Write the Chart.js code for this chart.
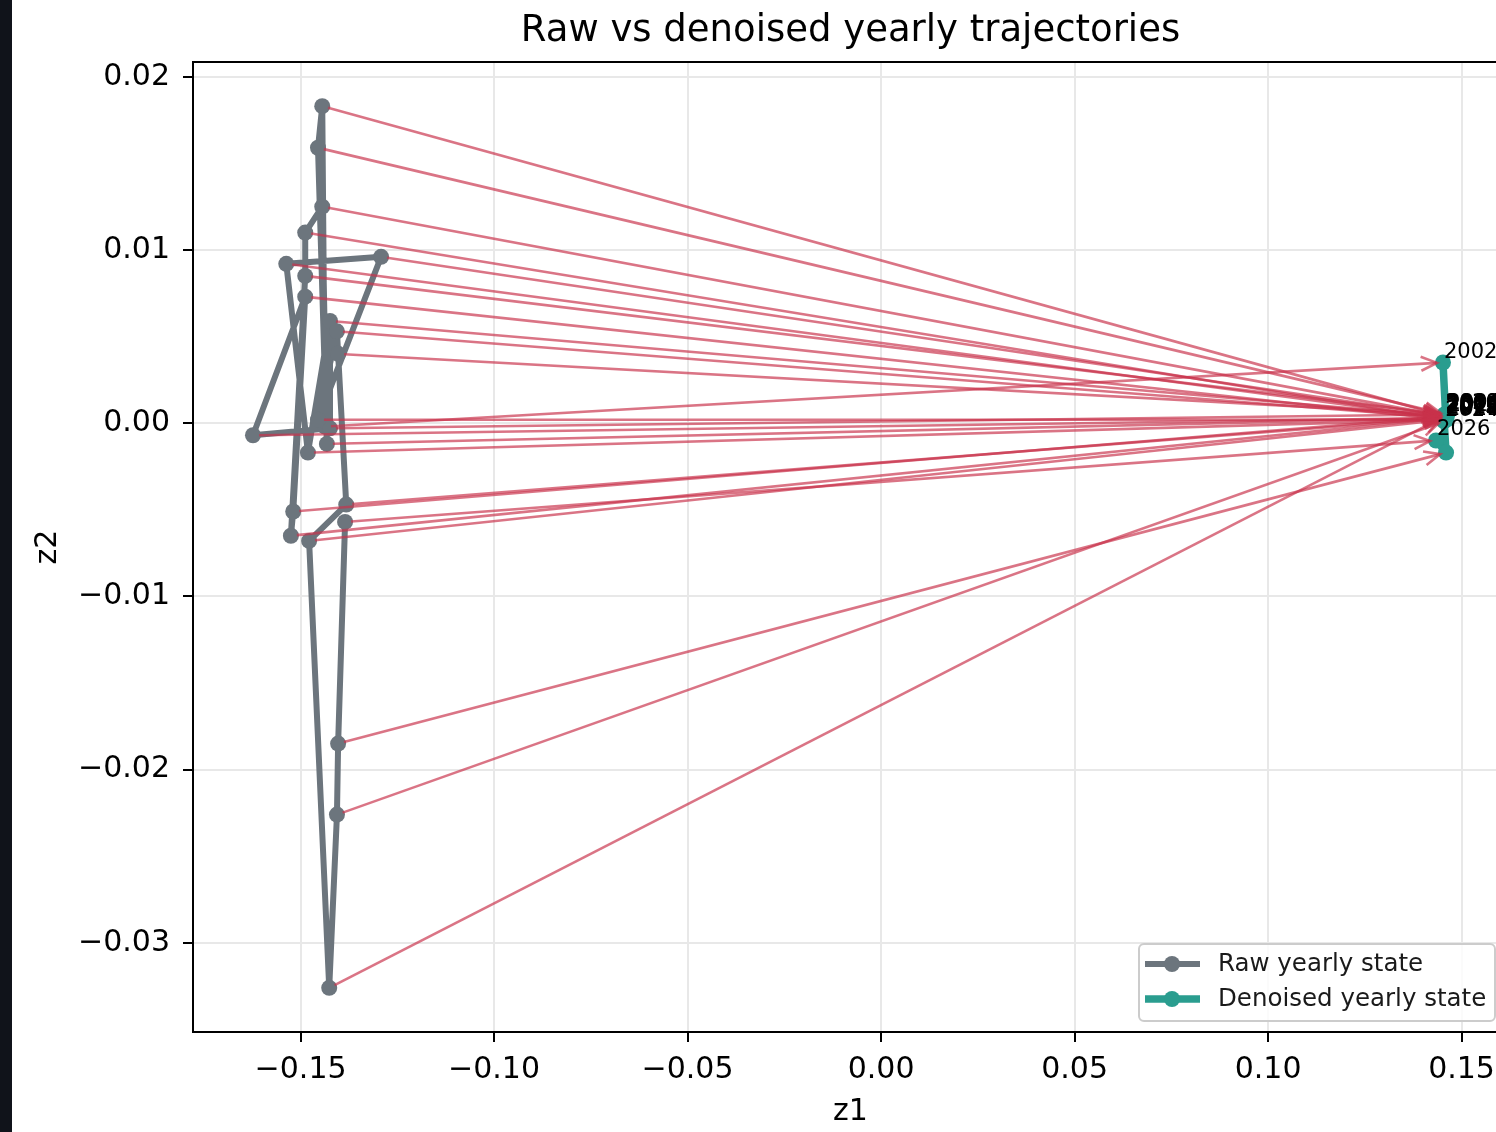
<!DOCTYPE html>
<html>
<head>
<meta charset="utf-8">
<script src="https://cdn.jsdelivr.net/npm/chart.js@4.4.1/dist/chart.umd.min.js"></script>
<style>
  html, body { margin: 0; padding: 0; background: #fff; overflow: hidden; }
  #wrap { position: relative; width: 1530px; height: 1132px; }
  #strip { position: absolute; left: 0; top: 0; width: 12px; height: 1132px; background: #10131a; z-index: 2; }
</style>
</head>
<body>
<div id="wrap">
  <div id="strip"></div>
  <canvas id="myChart"></canvas>
</div>
<script>
// data
var chartTitle = 'Raw vs denoised yearly trajectories';
var years = [2002, 2003, 2004, 2005, 2006, 2007, 2008, 2009, 2010, 2011, 2012, 2013, 2014,
             2015, 2016, 2017, 2018, 2019, 2020, 2021, 2022, 2023, 2024, 2025, 2026];
var rawZ1 = [-0.1437, -0.1444, -0.1455, -0.1432, -0.1444, -0.1488, -0.1488, -0.1525, -0.1519, -0.1488,
             -0.1623, -0.1424, -0.1424, -0.1481, -0.1537, -0.1292, -0.1455, -0.1406, -0.1403, -0.1382,
             -0.1478, -0.1426, -0.1406, -0.1403, -0.1385];
var rawZ2 = [-0.0002, 0.0183, 0.0159, -0.0012, 0.0125, 0.0110, 0.0085, -0.0065, -0.0051, 0.0073,
             -0.0007, -0.0003, 0.0059, -0.0017, 0.0092, 0.0096, 0.0002, 0.0053, 0.0040, -0.0047,
             -0.0068, -0.0326, -0.0226, -0.0185, -0.0057];
var denZ1 = [0.1452, 0.1459, 0.1461, 0.1458, 0.1456, 0.1460, 0.1457, 0.1459, 0.1462, 0.1458,
             0.1456, 0.1459, 0.1457, 0.1460, 0.1458, 0.1461, 0.1457, 0.1459, 0.1456, 0.1458,
             0.1460, 0.1457, 0.1455, 0.1460, 0.1434];
var denZ2 = [0.0035, 0.0004, 0.0005, 0.0003, 0.0004, 0.0002, 0.0005, 0.0003, 0.0004, 0.0002,
             0.0003, 0.0005, 0.0004, 0.0002, 0.0003, 0.0004, 0.0002, 0.0003, 0.0005, 0.0003,
             0.0002, 0.0004, 0.0001, -0.0017, -0.0010];
var labelYears = [2002, 2004, 2006, 2008, 2010, 2012, 2014, 2016, 2018, 2020, 2022, 2024, 2026];
var xTicks = [-0.15, -0.10, -0.05, 0.00, 0.05, 0.10, 0.15];
var yTicks = [-0.03, -0.02, -0.01, 0.00, 0.01, 0.02];
var xLimits = [-0.1778, 0.162];
var yLimits = [-0.03515, 0.02085];

var FONT = "'DejaVu Sans', sans-serif";
var grayCol = '#6c757d';
var greenCol = '#2a9d8f';
var arrowCol = 'rgba(200, 50, 75, 0.68)';

function fmt(v) {
    var s = Math.abs(v).toFixed(2);
    return (v < -1e-9 ? '\u2212' : '') + s;
}

// arrows raw -> denoised, year labels, frame, title, legend
var arrowPlugin = {
    id: 'arrows',
    afterDatasetsDraw: function (chart) {
        var ctx = chart.ctx, xs = chart.scales.x, ys = chart.scales.y;
        var area = chart.chartArea;
        ctx.save();
        ctx.beginPath();
        ctx.rect(area.left, area.top, area.right - area.left, area.bottom - area.top);
        ctx.clip();
        ctx.lineWidth = 2.6;
        ctx.strokeStyle = arrowCol;
        ctx.lineCap = 'butt';
        ctx.lineJoin = 'miter';
        for (var i = 0; i < years.length; i++) {
            var x0 = xs.getPixelForValue(rawZ1[i]), y0 = ys.getPixelForValue(rawZ2[i]);
            var x1 = xs.getPixelForValue(denZ1[i]), y1 = ys.getPixelForValue(denZ2[i]);
            var dx = x1 - x0, dy = y1 - y0, len = Math.sqrt(dx * dx + dy * dy);
            var ux = dx / len, uy = dy / len;
            var sx = x0 + ux * 6, sy = y0 + uy * 6;
            var ex = x1 - ux * 6, ey = y1 - uy * 6;
            ctx.beginPath();
            ctx.moveTo(sx, sy);
            ctx.lineTo(ex, ey);
            ctx.stroke();
            var hl = 16, hw = 7;
            ctx.beginPath();
            ctx.moveTo(ex - ux * hl - uy * hw, ey - uy * hl + ux * hw);
            ctx.lineTo(ex, ey);
            ctx.lineTo(ex - ux * hl + uy * hw, ey - uy * hl - ux * hw);
            ctx.stroke();
        }
        ctx.restore();

        // year labels
        ctx.save();
        ctx.fillStyle = '#000';
        ctx.font = '21px ' + FONT;
        ctx.textAlign = 'left';
        ctx.textBaseline = 'alphabetic';
        for (var j = 0; j < years.length; j++) {
            if (labelYears.indexOf(years[j]) < 0) continue;
            var px = xs.getPixelForValue(denZ1[j]), py = ys.getPixelForValue(denZ2[j]);
            ctx.fillText(String(years[j]), px + 1, py - 5);
        }
        ctx.restore();

        // top / right frame lines
        ctx.save();
        ctx.strokeStyle = '#000';
        ctx.lineWidth = 2;
        ctx.beginPath();
        ctx.moveTo(area.left, area.top);
        ctx.lineTo(area.right, area.top);
        ctx.lineTo(area.right, area.bottom);
        ctx.stroke();
        ctx.restore();

        // title, centred over the axes
        ctx.save();
        ctx.fillStyle = '#000';
        ctx.font = '37px ' + FONT;
        ctx.textAlign = 'center';
        ctx.textBaseline = 'middle';
        ctx.fillText(chartTitle, (area.left + area.right) / 2, 31);
        ctx.restore();

        // legend (lower right, inside axes)
        var ds = chart.data.datasets;
        var bx = 1139, by = 944, bw = 356, bh = 77;
        ctx.save();
        ctx.fillStyle = 'rgba(255,255,255,0.8)';
        ctx.strokeStyle = '#cccccc';
        ctx.lineWidth = 2;
        ctx.beginPath();
        ctx.roundRect(bx, by, bw, bh, 5);
        ctx.fill();
        ctx.stroke();
        ctx.font = '24.5px ' + FONT;
        ctx.textBaseline = 'middle';
        for (var k = 0; k < 2; k++) {
            var ly = by + 20 + k * 35;
            ctx.strokeStyle = ds[k].borderColor;
            ctx.lineWidth = ds[k].borderWidth;
            ctx.beginPath();
            ctx.moveTo(bx + 6, ly);
            ctx.lineTo(bx + 61, ly);
            ctx.stroke();
            ctx.fillStyle = ds[k].borderColor;
            ctx.beginPath();
            ctx.arc(bx + 33, ly, 8, 0, Math.PI * 2);
            ctx.fill();
            ctx.fillStyle = '#1a1a1a';
            ctx.fillText(ds[k].label, bx + 79, ly + 1);
        }
        ctx.restore();
    }
};

var rawPoints = rawZ1.map(function (v, i) { return { x: v, y: rawZ2[i] }; });
var denPoints = denZ1.map(function (v, i) { return { x: v, y: denZ2[i] }; });

new Chart(document.getElementById('myChart'), {
    type: 'scatter',
    data: {
        datasets: [
            {
                label: 'Raw yearly state',
                data: rawPoints,
                showLine: true,
                borderColor: grayCol,
                backgroundColor: grayCol,
                pointBackgroundColor: grayCol,
                pointBorderWidth: 0,
                borderWidth: 6,
                borderJoinStyle: 'round',
                pointRadius: 8,
                pointHoverRadius: 8
            },
            {
                label: 'Denoised yearly state',
                data: denPoints,
                showLine: true,
                borderColor: greenCol,
                backgroundColor: greenCol,
                pointBackgroundColor: greenCol,
                pointBorderWidth: 0,
                borderWidth: 7.5,
                borderJoinStyle: 'round',
                pointRadius: 8,
                pointHoverRadius: 8
            }
        ]
    },
    options: {
        responsive: true,
        maintainAspectRatio: false,
        animation: false,
        events: [],
        layout: { padding: { left: 0, right: 22, top: 62, bottom: 0 } },
        plugins: {
            legend: { display: false },
            tooltip: { enabled: false },
            title: { display: false }
        },
        scales: {
            x: {
                type: 'linear',
                min: xLimits[0],
                max: xLimits[1],
                afterBuildTicks: function (s) { s.ticks = xTicks.map(function (v) { return { value: v }; }); },
                afterFit: function (s) { s.height = 100; },
                ticks: {
                    color: '#000',
                    font: { family: FONT, size: 30 },
                    padding: 10,
                    maxRotation: 0,
                    autoSkip: false,
                    callback: function (v) { return fmt(v); }
                },
                grid: { color: '#e8e8e8', lineWidth: 2, tickColor: '#000', tickLength: 10, tickWidth: 2 },
                border: { color: '#000', width: 2 },
                title: {
                    display: true,
                    text: 'z1',
                    color: '#000',
                    font: { family: FONT, size: 30 },
                    padding: { top: 0, bottom: 2 }
                }
            },
            y: {
                type: 'linear',
                min: yLimits[0],
                max: yLimits[1],
                afterBuildTicks: function (s) { s.ticks = yTicks.map(function (v) { return { value: v }; }); },
                afterFit: function (s) { s.width = 193; },
                ticks: {
                    color: '#000',
                    font: { family: FONT, size: 30 },
                    padding: 13,
                    autoSkip: false,
                    callback: function (v) { return fmt(v); }
                },
                grid: { color: '#e8e8e8', lineWidth: 2, tickColor: '#000', tickLength: 10, tickWidth: 2 },
                border: { color: '#000', width: 2 },
                title: {
                    display: true,
                    text: 'z2',
                    color: '#000',
                    font: { family: FONT, size: 30 },
                    padding: { top: 30, bottom: 0 }
                }
            }
        }
    },
    plugins: [arrowPlugin]
});
</script>
</body>
</html>
